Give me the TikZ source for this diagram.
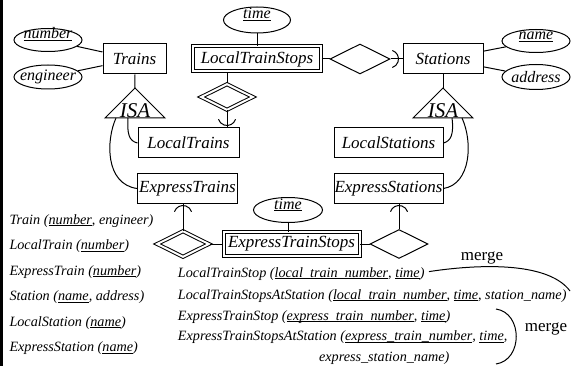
\documentclass[tikz,border=0pt]{standalone}
\usepackage{fontspec}
\setmainfont{Liberation Serif}
\usetikzlibrary{shapes.geometric,calc}
\newcommand\keyu[1]{\underline{\smash{#1}}}
\begin{document}
\begin{tikzpicture}[x=1pt,y=-1pt,line width=1pt,
  ent/.style={draw,minimum height=30pt,inner sep=0.5pt,font=\fontsize{17}{19}\selectfont\itshape},
  went/.style={ent,double,double distance=2pt},
  attr/.style={draw,ellipse,inner sep=0pt,font=\fontsize{16}{18}\selectfont\itshape,
    execute at begin node={\hbox to 0pt\bgroup\hss},execute at end node={\hss\egroup}},
  rel/.style={draw,diamond,inner sep=0pt},
  wrel/.style={rel,double,double distance=2pt},
  schema/.style={anchor=base west,inner sep=0pt,font=\fontsize{14.2}{16}\selectfont\itshape},
  isatext/.style={anchor=base,inner sep=0pt,font=\fontsize{21}{22}\selectfont\itshape},
  lbl/.style={inner sep=0pt,font=\fontsize{17}{19}\selectfont},
  ]
\useasboundingbox (0,0) rectangle (575,366);
\fill[black] (0,0) rectangle (3,366);

% entities
\node[ent,minimum width=63pt] (Trains) at (134.5,59) {Trains};
\node[went,minimum width=128pt,minimum height=25pt] (LTS) at (257,59) {LocalTrainStops};
\node[ent,minimum width=80pt] (Stations) at (443,59) {Stations};
\node[ent,minimum width=101pt] (LT) at (188.5,143) {LocalTrains};
\node[ent,minimum width=100pt,minimum height=29pt] (ET) at (187.5,188.5) {ExpressTrains};
\node[ent,minimum width=109pt] (LS) at (388.5,143) {LocalStations};
\node[ent,minimum width=109pt,minimum height=29pt] (ES) at (388.5,188.5) {ExpressStations};
\node[went,minimum width=136pt,minimum height=24pt] (ETS) at (291.5,244) {ExpressTrainStops};

% attributes
\node[attr,minimum width=68pt,minimum height=23pt] (number) at (48,40) {\keyu{number}};
\node[attr,minimum width=68pt,minimum height=24pt] (engineer) at (48,77) {engineer};
\node[attr,minimum width=67pt,minimum height=26pt] (time1) at (257,20) {\keyu{time}};
\node[attr,minimum width=68pt,minimum height=23pt] (name) at (536,41) {\keyu{name}};
\node[attr,minimum width=68pt,minimum height=25pt] (address) at (536,77) {address};
\node[attr,minimum width=69pt,minimum height=25pt] (time2) at (288,210) {\keyu{time}};

% relationships
\node[rel,minimum width=60pt,minimum height=30pt] (r1) at (360,59) {};
\node[wrel,minimum width=52pt,minimum height=26pt] (w1) at (227,97) {};
\node[wrel,minimum width=52pt,minimum height=26pt] (w2) at (183,244) {};
\node[rel,minimum width=58pt,minimum height=29pt] (r3) at (399,244) {};

% ISA triangles
\coordinate (isaL) at (135,88);
\coordinate (isaLa) at (165,118);
\coordinate (isaLb) at (105,118);
\coordinate (isaLi) at (128,118);
\coordinate (isaLo) at (116,118);
\draw (isaL) -- (isaLa) -- (isaLb) -- cycle;
\node[isatext] (isaLt) at (135,118) {ISA};
\coordinate (isaR) at (443,88);
\coordinate (isaRa) at (473,118);
\coordinate (isaRb) at (413,118);
\coordinate (isaRi) at (452,118);
\coordinate (isaRo) at (462,118);
\draw (isaR) -- (isaRa) -- (isaRb) -- cycle;
\node[isatext] (isaRt) at (443,118) {ISA};

% connectors
\draw (number) -- (Trains);
\draw (engineer) -- (Trains);
\draw (name) -- (Stations);
\draw (address) -- (Stations);
\draw (time1) -- (LTS);
\draw (LTS) -- (r1);
\draw (r1) -- (Stations);
\draw (w1) -- (w1 |- LTS.south);
\draw (w1) -- (w1 |- LT.north);
\draw (Trains) -- (isaL);
\draw (Stations) -- (isaR);
\draw (isaLi) .. controls (127,134) and (129,141) .. (LT.west);
\draw (isaLo) .. controls (106,140) and (105,184) .. (ET.west);
\draw (isaRi) .. controls (454,134) and (451,141) .. (LS.east);
\draw (isaRo) .. controls (473,142) and (471,184) .. (ES.east);
\draw (w2) -- (w2 |- ET.south);
\draw (w2) -- (ETS);
\draw (ETS) -- (r3);
\draw (r3) -- (r3 |- ES.south);
\draw (time2) -- (time2 |- ETS.north);

% rounded arrow arcs
\draw ($(Stations.west)+(-13,0)$) ++(-72:9) arc[start angle=-72,end angle=72,radius=9];
\draw ($(w1 |- LT.north)+(0,-11)$) ++(18:9) arc[start angle=18,end angle=162,radius=9];
\draw ($(w2 |- ET.south)+(0,11)$) ++(198:9) arc[start angle=198,end angle=342,radius=9];
\draw ($(r3 |- ES.south)+(0,11)$) ++(198:9) arc[start angle=198,end angle=342,radius=9];

% relation schemas
\node[schema] (s1) at (9,224) {Train (\keyu{number}, engineer)};
\node[schema] (s2) at (9,249.5) {LocalTrain (\keyu{number})};
\node[schema] (s3) at (9,275) {ExpressTrain (\keyu{number})};
\node[schema] (s4) at (9,300.5) {Station (\keyu{name}, address)};
\node[schema] (s5) at (9,326) {LocalStation (\keyu{name})};
\node[schema] (s6) at (9,351.5) {ExpressStation (\keyu{name})};

\node[schema,anchor=base east] (t2) at (567,299) {LocalTrainStopsAtStation (\keyu{local\_train\_number}, \keyu{time}, station\_name)};
\node[schema] (t1) at (t2.base west |- 0,277) {LocalTrainStop (\keyu{local\_train\_number}, \keyu{time})};
\node[schema] (t3) at (t2.base west |- 0,320) {ExpressTrainStop (\keyu{express\_train\_number}, \keyu{time})};
\node[schema] (t4) at (t2.base west |- 0,340.5) {ExpressTrainStopsAtStation (\keyu{express\_train\_number}, \keyu{time},};
\node[schema,anchor=base east] (t5) at ($(t4.base east)+(-58,20.5)$) {express\_station\_name)};

% merge marks
\coordinate (m1a) at ($(t1.east)+(4,-2)$);
\coordinate (m1b) at (570,291);
\draw (m1a) .. controls ($(m1a)+(60,-9)$) and (550,264) .. (m1b);
\node[lbl] (merge1) at (482,258) {merge};
\coordinate (m2a) at (496,309);
\coordinate (m2b) at (496,364);
\draw (m2a) .. controls (523,313) and (523,360) .. (m2b);
\node[lbl] (merge2) at (546,329) {merge};
\end{tikzpicture}
\end{document}
